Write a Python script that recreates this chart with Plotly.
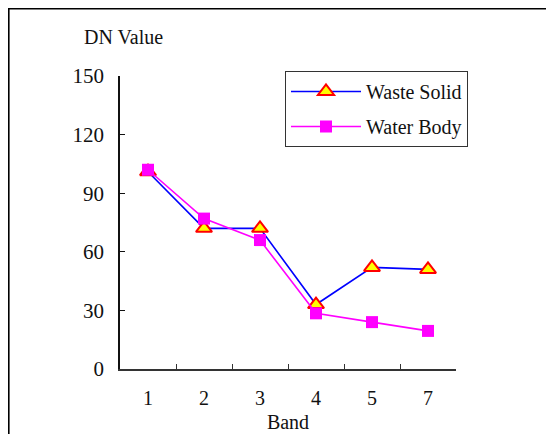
import plotly.graph_objects as go

bands = ["1", "2", "3", "4", "5", "7"]
waste_solid = [101, 72, 72, 33, 52, 51]
water_body = [102, 77, 66, 28.5, 24, 19.5]
y_ticks = [0, 30, 60, 90, 120, 150]

FONT = "Liberation Serif"
OFF = 8  # page body margin

fig = go.Figure()
fig.add_trace(go.Scatter(
    x=bands, y=waste_solid, name="Waste Solid", mode="lines+markers",
    legendgroup="a",
    line=dict(color="#0000ff", width=1.6),
    marker=dict(symbol="triangle-up", size=14, color="#ffff00",
                line=dict(color="#ff0000", width=2)),
))
fig.add_trace(go.Scatter(
    x=bands, y=water_body, name="Water Body", mode="lines+markers",
    legendgroup="b",
    line=dict(color="#ff00ff", width=1.6),
    marker=dict(symbol="square", size=12, color="#ff00ff",
                line=dict(width=0)),
))

W, H = 554, 434
L, T = 120 - OFF, 76 - OFF
R, B = W - (456 - OFF), H - (369 - OFF)
pw, ph = W - L - R, H - T - B

def px(x):
    return (x - OFF - L) / pw

def py(y):
    return 1 - (y - OFF - T) / ph

fig.update_layout(
    width=W, height=H,
    margin=dict(l=L, r=R, t=T, b=B),
    paper_bgcolor="white", plot_bgcolor="white",
    font=dict(family=FONT, size=20, color="#111111"),
    showlegend=True,
    legend=dict(
        x=px(285), y=py(71), xanchor="left", yanchor="top",
        bordercolor="#333333", borderwidth=1, bgcolor="white",
        font=dict(family=FONT, size=20, color="#111111"),
        traceorder="grouped", tracegroupgap=6, itemwidth=70,
        entrywidth=194, entrywidthmode="pixels",
    ),
    xaxis=dict(
        type="category", tickson="boundaries", range=[-0.5, 5.5],
        showline=True, linecolor="#333333", linewidth=1.5,
        ticks="inside", ticklen=5, tickcolor="#333333", tickwidth=1.2,
        showgrid=False, zeroline=False,
        tickfont=dict(family=FONT, size=20, color="#111111"),
        ticklabelstandoff=10,
        title=dict(text="Band", font=dict(family=FONT, size=20, color="#111111"), standoff=7),
    ),
    yaxis=dict(
        range=[0, 150], tickvals=y_ticks,
        showline=True, linecolor="#111111", linewidth=1.5,
        ticks="inside", ticklen=5, tickcolor="#111111", tickwidth=1.2,
        showgrid=False, zeroline=False,
        tickfont=dict(family=FONT, size=21, color="#111111"),
        ticklabelstandoff=10,
    ),
    annotations=[dict(
        text="DN Value", xref="paper", yref="paper",
        x=px(82), y=py(37), xanchor="left", yanchor="middle",
        showarrow=False, font=dict(family=FONT, size=20, color="#111111"),
    )],
    shapes=[dict(
        type="rect", xref="paper", yref="paper",
        x0=(0.8 - L) / pw, x1=2.0, y0=-1.0, y1=1 + (T - 0.8) / ph,
        line=dict(color="black", width=1.6), fillcolor="rgba(0,0,0,0)",
        layer="above",
    )],
)

fig.write_html("out.html")
